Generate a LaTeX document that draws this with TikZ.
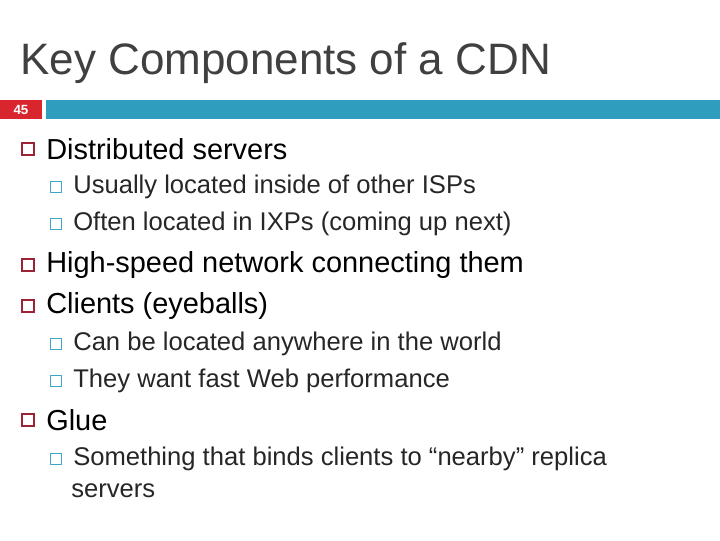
\documentclass[tikz,border=0pt]{standalone}
\usepackage{fontspec}
\setmainfont{Liberation Sans}
\definecolor{bar}{HTML}{2E9DBE}
\definecolor{num}{HTML}{D9262E}
\definecolor{bone}{HTML}{9B2335}
\definecolor{btwo}{HTML}{3FA8C8}
\definecolor{ttl}{HTML}{404040}
\begin{document}
\begin{tikzpicture}[x=0.75pt,y=-0.75pt,
  l1/.style={anchor=west,font=\fontsize{21.7}{24}\selectfont,inner sep=0},
  l2/.style={anchor=west,font=\fontsize{19.2}{21}\selectfont,inner sep=0,text=black!85},
  b1/.style={draw=bone,line width=1.1pt,minimum size=9pt,inner sep=0},
  b2/.style={draw=btwo,line width=0.9pt,minimum size=8pt,inner sep=0}]
\useasboundingbox (0,0) rectangle (720,540);
\node[anchor=base west,inner sep=0,text=ttl,font=\fontsize{33}{36}\selectfont] (title) at (20,74) {Key Components of a CDN};
\fill[num] (0,100) rectangle (42,119);
\node[text=white,font=\bfseries\fontsize{10}{12}\selectfont] (n) at (21,109.5) {45};
\fill[bar] (46,100) rectangle (720,119);
\foreach \y/\t [count=\i] in {149/Distributed servers,265/High-speed network connecting them,306/Clients (eyeballs),420/Glue}{
  \node[b1] (p\i) at (28,\y) {};
  \node[l1] (t\i) at (46,\y) {\t};}
\foreach \y/\t [count=\i] in {187/Usually located inside of other ISPs,224/Often located in IXPs (coming up next),344/Can be located anywhere in the world,381/They want fast Web performance,459/Something that binds clients to “nearby” replica}{
  \node[b2] (q\i) at (56,\y) {};
  \node[l2] (s\i) at (73,\y) {\t};}
\node[l2] (s6) at (71,491) {servers};
\end{tikzpicture}
\end{document}
